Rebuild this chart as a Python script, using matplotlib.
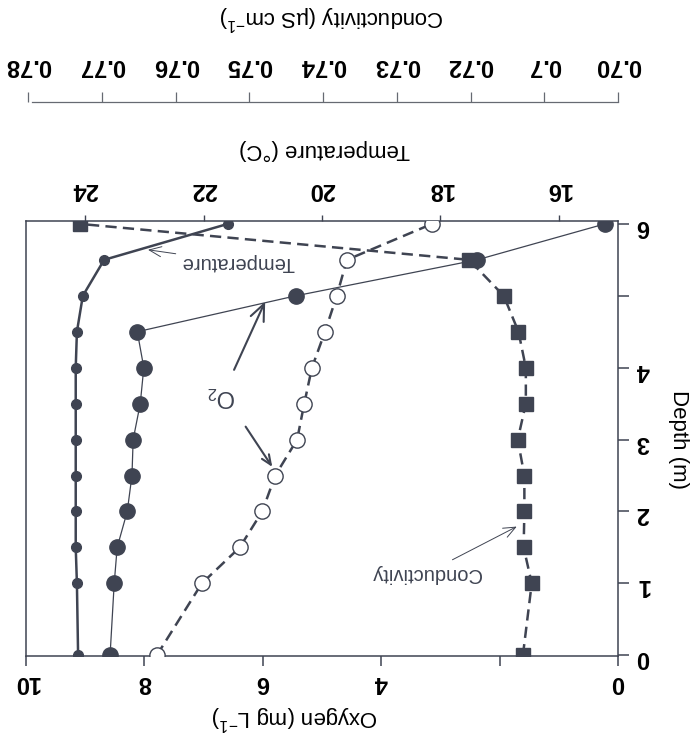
import matplotlib
matplotlib.use("Agg")
import matplotlib.pyplot as plt

depth = [0, 1, 1.5, 2, 2.5, 3, 3.5, 4, 4.5, 5, 5.5, 6]
temperature = [24.12, 24.14, 24.16, 24.16, 24.16, 24.16, 24.16, 24.16, 24.14, 24.04, 23.68, 21.59]
oxygen_filled = [8.58, 8.51, 8.46, 8.29, 8.21, 8.19, 8.07, 8.01, 8.12, 5.44, 2.38, 0.22]
oxygen_open = [7.79, 7.03, 6.39, 6.01, 5.79, 5.42, 5.30, 5.17, 4.95, 4.75, 4.58, 3.14]
conductivity = [0.7129, 0.7117, 0.7128, 0.7127, 0.7127, 0.7136, 0.7125, 0.7125, 0.7135, 0.7155, 0.7202, 0.7730]

oxy_ticks = [10, 8, 6, 4, 2, 0]
oxy_labels = ['10', '8', '6', '4', '', '0']
depth_ticks = [0, 1, 2, 3, 4, 5, 6]
depth_labels = ['0', '1', '2', '3', '4', '', '6']
temp_ticks = [24, 22, 20, 18, 16]
cond_ticks = [0.78, 0.77, 0.76, 0.75, 0.74, 0.73, 0.72, 0.71, 0.70]
cond_labels = ['0.78', '0.77', '0.76', '0.75', '0.74', '0.73', '0.72', '0.7', '0.70']

plt.rcParams['font.family'] = ['Liberation Sans', 'DejaVu Sans']
plt.rcParams['mathtext.fontset'] = 'custom'
plt.rcParams['mathtext.rm'] = 'Liberation Sans'
plt.rcParams['mathtext.it'] = 'Liberation Sans:italic'

ink = '#3f4452'
W, H = 692, 746

fig = plt.figure(figsize=(W / 100, H / 100), dpi=100)
ax = fig.add_axes([26 / W, 1 - 656 / H, 592 / W, 435 / H])

# the whole figure is printed rotated by 180 degrees
ax.set_xlim(10, 0)
ax.set_ylim(-0.01, 6.04)
for s in ax.spines.values():
    s.set_color(ink)
    s.set_linewidth(1.1)

ax.plot(oxygen_filled, depth, '-', color=ink, lw=0.9, marker='o', ms=11,
        mfc=ink, mec=ink, zorder=3)
ax.plot(oxygen_open, depth, '--', color=ink, lw=1.8, dashes=(4.5, 2.5),
        marker='o', ms=11, mfc='white', mec=ink, mew=1.0, zorder=3)

ax.set_xticks(oxy_ticks)
ax.set_xticklabels(oxy_labels)
ax.yaxis.tick_right()
ax.set_yticks(depth_ticks)
ax.set_yticklabels(depth_labels)
ax.tick_params(axis='x', direction='out', length=7, width=1.1, color=ink,
               pad=4, labelsize=17, labelrotation=180)
ax.tick_params(axis='y', direction='out', length=8, width=1.1, color=ink,
               pad=5, labelsize=17, labelrotation=180)
for lab in ax.get_xticklabels() + ax.get_yticklabels():
    lab.set_fontweight('bold')

# temperature axis
ax_t = ax.twiny()
ax_t.set_xlim(25, 15)
ax_t.plot(temperature, depth, '-', color=ink, lw=1.8, marker='o', ms=7,
          mfc=ink, mec=ink)
ax_t.set_xticks(temp_ticks)
ax_t.tick_params(axis='x', direction='out', length=4, width=1.0, color=ink,
                 pad=10.5, labelsize=17, labelrotation=180)
for lab in ax_t.get_xticklabels():
    lab.set_fontweight('bold')
for s in ax_t.spines.values():
    s.set_visible(False)

# conductivity axis
ax_c = ax.twiny()
ax_c.set_xlim(0.7803, 0.7007)
ax_c.plot(conductivity, depth, '--', color=ink, lw=1.8, dashes=(4.5, 2.5),
          marker='s', ms=10, mfc=ink, mec=ink, zorder=4)
for k in ['left', 'right', 'bottom']:
    ax_c.spines[k].set_visible(False)
ax_c.spines['top'].set_position(('outward', 86))
ax_c.spines['top'].set_color('#666a72')
ax_c.spines['top'].set_linewidth(0.9)
ax_c.spines['top'].set_bounds(0.7795, 0.7000)
ax_c.set_xticks(cond_ticks)
ax_c.set_xticklabels(cond_labels)
ax_c.tick_params(axis='x', direction='out', length=7, width=0.9, color='#666a72',
                 pad=10.5, labelsize=17, labelrotation=180)
for lab in ax_c.get_xticklabels():
    lab.set_fontweight('bold')

# axis titles
fig.text(332 / W, 1 - 17 / H, 'Conductivity (µS cm$^{-1}$)', rotation=180,
         ha='center', va='center', fontsize=16, color='black')
fig.text(325 / W, 1 - 150 / H, 'Temperature (°C)', rotation=180,
         ha='center', va='center', fontsize=16, color='black')
fig.text(295 / W, 1 - 717 / H, 'Oxygen (mg L$^{-1}$)', rotation=180,
         ha='center', va='center', fontsize=16, color='black')
fig.text(678 / W, 1 - 440 / H, 'Depth (m)', rotation=270,
         ha='center', va='center', fontsize=16, color='black')

# labels with arrows
thin = dict(arrowstyle='->,head_length=0.6,head_width=0.25', color=ink, lw=0.7,
            shrinkA=2, shrinkB=0)
ax.annotate('Temperature', xy=(7.94, 5.64), xytext=(6.42, 5.46), rotation=180,
            ha='center', va='center', fontsize=14.5, color=ink, arrowprops=thin)
ax.annotate('Conductivity', xy=(1.71, 1.79), xytext=(3.24, 1.14), rotation=180,
            ha='center', va='center', fontsize=14.5, color=ink, arrowprops=thin)
thick = dict(arrowstyle='->,head_length=0.7,head_width=0.3', color=ink, lw=1.5,
             shrinkA=0, shrinkB=0)
ax.annotate('O$_2$', xy=(5.96, 4.92), xytext=(6.69, 3.60), rotation=180,
            ha='center', va='center', fontsize=17, color=ink,
            arrowprops=dict(thick, shrinkA=9))
ax.annotate('', xy=(5.84, 2.62), xytext=(6.29, 3.18), arrowprops=thick)

fig.savefig('out.png', dpi=100)
